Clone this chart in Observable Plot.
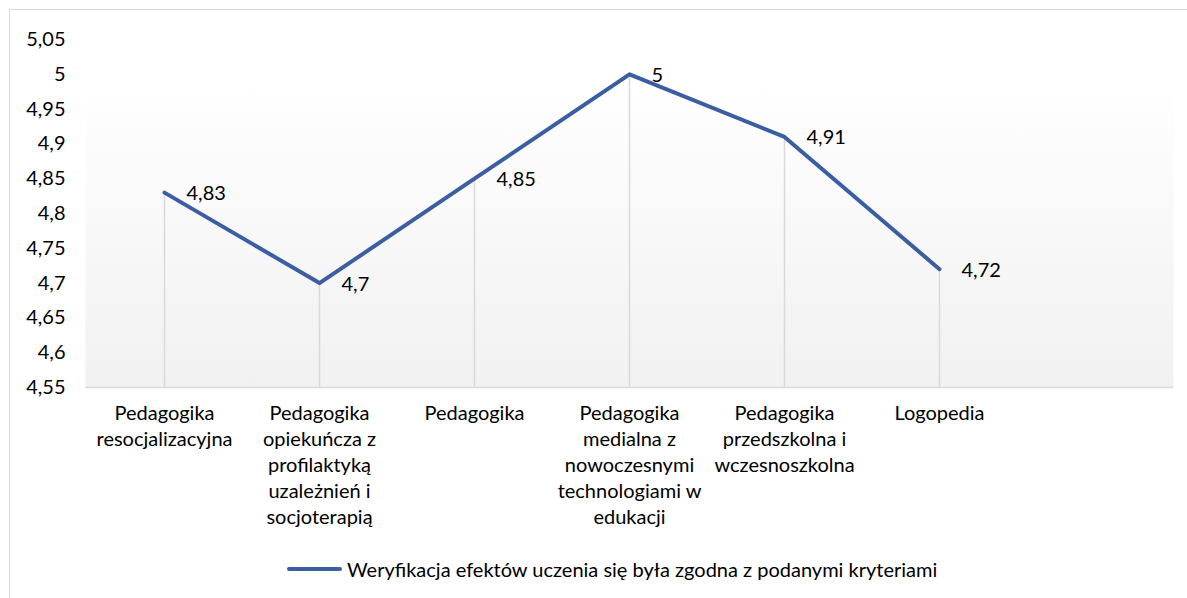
<!DOCTYPE html>
<html>
<head>
<meta charset="utf-8">
<script src="https://cdn.jsdelivr.net/npm/d3@7"></script>
<script src="https://cdn.jsdelivr.net/npm/@observablehq/plot@0.6"></script>
<style>
  html, body { margin: 0; padding: 0; background: #fff; width: 1187px; height: 598px; overflow: hidden; }
  body { position: relative; font-family: Lato, "DejaVu Sans", sans-serif; }
  #frame { position: absolute; left: 9px; top: 9px; width: 1200px; height: 620px; border: 1px solid #d9d9d9; box-sizing: border-box; }
  #chart { position: absolute; left: 0; top: 0; }
  #legend { position: absolute; left: 287px; top: 556px; height: 26px; display: flex; align-items: center; font-size: 20px; color: #000; white-space: nowrap; }
  #legend .swatch { width: 55px; height: 4px; background: #3b5ea3; border-radius: 2px; margin-right: 5px; }
</style>
</head>
<body>
<div id="frame"></div>
<div id="chart"></div>
<div id="legend"><span class="swatch"></span><span id="legendText"></span></div>
<script>
const categories = [
  "Pedagogika resocjalizacyjna",
  "Pedagogika opiekuńcza z profilaktyką uzależnień i socjoterapią",
  "Pedagogika",
  "Pedagogika medialna z nowoczesnymi technologiami w edukacji",
  "Pedagogika przedszkolna i wczesnoszkolna",
  "Logopedia"
];
const tickLabels = [
  "Pedagogika\nresocjalizacyjna",
  "Pedagogika\nopiekuńcza z\nprofilaktyką\nuzależnień i\nsocjoterapią",
  "Pedagogika",
  "Pedagogika\nmedialna z\nnowoczesnymi\ntechnologiami w\nedukacji",
  "Pedagogika\nprzedszkolna i\nwczesnoszkolna",
  "Logopedia"
];
const values = [4.83, 4.7, 4.85, 5, 4.91, 4.72];
const yTicks = [4.55, 4.6, 4.65, 4.7, 4.75, 4.8, 4.85, 4.9, 4.95, 5, 5.05];
const seriesName = "Weryfikacja efektów uczenia się była zgodna z podanymi kryteriami";

const emptySlot = " ";
const xDomain = [...categories, emptySlot];
const data = categories.map((c, i) => ({category: c, value: values[i]}));
const labelFor = new Map(categories.map((c, i) => [c, tickLabels[i]]));
const fmt = v => String(+v.toFixed(2)).replace(".", ",");

const chart = Plot.plot({
  width: 1187,
  height: 540,
  marginLeft: 85,
  marginRight: 14,
  marginTop: 39,
  marginBottom: 153,
  style: { fontFamily: "Lato, 'DejaVu Sans', sans-serif", fontSize: "20px", color: "#000", background: "transparent" },
  x: { type: "point", domain: xDomain, padding: 0.5 },
  y: { domain: [4.55, 5.05] },
  marks: [
    Plot.frame({ fill: "url(#bgGrad)", stroke: "none" }),
    Plot.ruleX(data, { x: "category", y1: 4.55, y2: "value", stroke: "#d9d9d9", strokeWidth: 1.5 }),
    Plot.ruleY([4.55], { stroke: "#d9d9d9", strokeWidth: 1.5 }),
    Plot.axisY({ ticks: yTicks, tickFormat: fmt, tickSize: 0, tickPadding: 20, fontSize: 20, label: null }),
    Plot.axisX({ tickFormat: d => labelFor.get(d) ?? "", tickSize: 0, tickPadding: 14, fontSize: 20, lineHeight: 1.3, label: null }),
    Plot.line(data, { x: "category", y: "value", stroke: "#3b5ea3", strokeWidth: 4, strokeLinejoin: "round" }),
    Plot.text(data, { x: "category", y: "value", text: d => fmt(d.value), textAnchor: "start", dx: 22, dy: 1, fontSize: 20, fill: "#000" })
  ]
});

// gradient definition for the plot area background
const ns = "http://www.w3.org/2000/svg";
const defs = document.createElementNS(ns, "defs");
defs.innerHTML = '<linearGradient id="bgGrad" x1="0" y1="0" x2="0" y2="1">' +
  '<stop offset="0.12" stop-color="#ffffff"/>' +
  '<stop offset="1" stop-color="#f1f1f1"/></linearGradient>';
chart.insertBefore(defs, chart.firstChild);

document.getElementById("chart").appendChild(chart);
document.getElementById("legendText").textContent = seriesName;
</script>
</body>
</html>
